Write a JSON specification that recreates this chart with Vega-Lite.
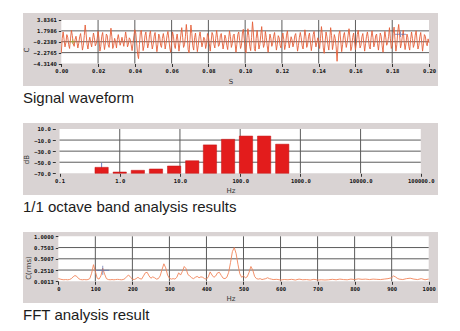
{
  "$schema": "https://vega.github.io/schema/vega-lite/v6.json",
  "background": "white",
  "padding": {"left": 22, "top": 13, "right": 0, "bottom": 0},
  "spacing": 17,
  "config": {
    "view": {"fill": "#d9d3d3", "stroke": null},
    "axis": {
      "domain": false, "grid": false, "zindex": 1, "tickCount": 12,
      "labelFont": "DejaVu Sans Mono", "labelFontWeight": "bold", "labelFontSize": 5.5, "labelColor": "#111111",
      "labelPadding": 2, "labelFlush": false, "labelOverlap": false, "labelBound": false,
      "tickColor": "#333333", "tickSize": 3, "tickWidth": 1,
      "titleFont": "DejaVu Sans", "titleFontSize": 7, "titleFontWeight": "normal", "titleColor": "#333333"
    },
    "axisY": {"titlePadding": 4},
    "axisX": {"titlePadding": 3},
    "title": {
      "orient": "bottom", "anchor": "start", "frame": "group", "offset": 5, "baseline": "top",
      "font": "Liberation Sans", "fontSize": 15, "fontWeight": "normal", "color": "#1c1c1c"
    }
  },
  "vconcat": [
    {
      "width": 415, "height": 73,
      "title": "Signal waveform",
      "layer": [
        {
          "data": {"values": [{}]},
          "mark": {"type": "rect", "color": "#ffffff"},
          "encoding": {
            "x": {"datum": 0, "type": "quantitative", "scale": {"domain": [-0.020832, 0.204895], "nice": false, "zero": false},
                  "axis": {"orient": "bottom", "offset": -22.5, "values": [0, 0.02, 0.04, 0.06, 0.08, 0.1, 0.12, 0.14, 0.16, 0.18, 0.2], "format": ".2f", "title": "S"}},
            "x2": {"datum": 0.2},
            "y": {"datum": -4.314, "type": "quantitative", "scale": {"domain": [-8.5295, 5.1476], "nice": false, "zero": false},
                  "axis": {"offset": -38.3, "values": [-4.314, -2.2765, -0.2389, 1.7986, 3.8361], "format": ".4f", "title": "C"}},
            "y2": {"datum": 3.8361}
          }
        },
        {
          "data": {"values": [{"t": 0.02}, {"t": 0.04}, {"t": 0.06}, {"t": 0.08}, {"t": 0.1}, {"t": 0.12}, {"t": 0.14}, {"t": 0.16}, {"t": 0.18}, {"v": 1.7986}, {"v": -0.2389}, {"v": -2.2765}]},
          "layer": [
            {
              "transform": [{"filter": "isValid(datum.t)"}],
              "mark": {"type": "rule", "color": "#5c5c5c", "strokeWidth": 1},
              "encoding": {
                "x": {"field": "t", "type": "quantitative"},
                "y": {"datum": -4.314, "type": "quantitative"}, "y2": {"datum": 3.8361}
              }
            },
            {
              "transform": [{"filter": "isValid(datum.v)"}],
              "mark": {"type": "rule", "color": "#5c5c5c", "strokeWidth": 1},
              "encoding": {
                "y": {"field": "v", "type": "quantitative"},
                "x": {"datum": 0, "type": "quantitative"}, "x2": {"datum": 0.2}
              }
            }
          ]
        },
        {
          "data": {"values": [
            {"t":0,"v":-2.3},{"t":0.0005,"v":0.4},{"t":0.001,"v":1.6},{"t":0.0015,"v":0.2},{"t":0.002,"v":-1.2},{"t":0.0025,"v":-0.4},{"t":0.003,"v":1.1},{"t":0.0035,"v":0.6},{"t":0.004,"v":-0.8},{"t":0.0045,"v":-1.5},{"t":0.005,"v":0.3},{"t":0.0055,"v":1.9},{"t":0.006,"v":0.9},{"t":0.0065,"v":-0.6},{"t":0.007,"v":-1.1},{"t":0.0075,"v":0.2},{"t":0.008,"v":0.8},{"t":0.0085,"v":-0.3},{"t":0.009,"v":-1.4},{"t":0.0095,"v":-0.5},
            {"t":0.01,"v":0.7},{"t":0.0105,"v":1.3},{"t":0.011,"v":-0.2},{"t":0.0115,"v":-1.8},{"t":0.012,"v":-0.9},{"t":0.0125,"v":0.9},{"t":0.013,"v":2.9},{"t":0.0135,"v":1.2},{"t":0.014,"v":-0.7},{"t":0.0145,"v":-1.6},{"t":0.015,"v":-0.2},{"t":0.0155,"v":0.6},{"t":0.016,"v":-0.4},{"t":0.0165,"v":-1.2},{"t":0.017,"v":0.1},{"t":0.0175,"v":1.4},{"t":0.018,"v":0.5},{"t":0.0185,"v":-1.0},{"t":0.019,"v":-0.6},{"t":0.0195,"v":0.3},
            {"t":0.02,"v":1.7},{"t":0.0205,"v":0.4},{"t":0.021,"v":-2.0},{"t":0.0215,"v":-1.1},{"t":0.022,"v":0.8},{"t":0.0225,"v":1.5},{"t":0.023,"v":-0.3},{"t":0.0235,"v":-1.7},{"t":0.024,"v":-0.4},{"t":0.0245,"v":1.2},{"t":0.025,"v":0.9},{"t":0.0255,"v":-0.8},{"t":0.026,"v":-1.3},{"t":0.0265,"v":0.5},{"t":0.027,"v":2.3},{"t":0.0275,"v":0.7},{"t":0.028,"v":-1.5},{"t":0.0285,"v":-0.9},{"t":0.029,"v":0.4},{"t":0.0295,"v":-0.2},
            {"t":0.03,"v":-1.4},{"t":0.0305,"v":0.2},{"t":0.031,"v":1.1},{"t":0.0315,"v":0.1},{"t":0.032,"v":-0.9},{"t":0.0325,"v":-0.3},{"t":0.033,"v":0.6},{"t":0.0335,"v":-0.2},{"t":0.034,"v":-1.1},{"t":0.0345,"v":0.3},{"t":0.035,"v":1.6},{"t":0.0355,"v":0.4},{"t":0.036,"v":-1.2},{"t":0.0365,"v":-0.7},{"t":0.037,"v":0.5},{"t":0.0375,"v":0.2},{"t":0.038,"v":-0.8},{"t":0.0385,"v":-1.9},{"t":0.039,"v":-0.6},{"t":0.0395,"v":0.9},
            {"t":0.04,"v":2.0},{"t":0.0405,"v":1.4},{"t":0.041,"v":-0.5},{"t":0.0415,"v":-2.6},{"t":0.042,"v":-3.4},{"t":0.0425,"v":-0.8},{"t":0.043,"v":1.5},{"t":0.0435,"v":1.9},{"t":0.044,"v":0.1},{"t":0.0445,"v":-1.9},{"t":0.045,"v":-1.0},{"t":0.0455,"v":0.9},{"t":0.046,"v":1.6},{"t":0.0465,"v":0.0},{"t":0.047,"v":-1.4},{"t":0.0475,"v":-0.6},{"t":0.048,"v":1.1},{"t":0.0485,"v":1.8},{"t":0.049,"v":-0.2},{"t":0.0495,"v":-1.6},
            {"t":0.05,"v":-0.7},{"t":0.0505,"v":0.8},{"t":0.051,"v":1.5},{"t":0.0515,"v":-0.4},{"t":0.052,"v":-2.1},{"t":0.0525,"v":-0.8},{"t":0.053,"v":1.2},{"t":0.0535,"v":0.7},{"t":0.054,"v":-0.9},{"t":0.0545,"v":-1.3},{"t":0.055,"v":0.4},{"t":0.0555,"v":1.3},{"t":0.056,"v":0.2},{"t":0.0565,"v":-1.6},{"t":0.057,"v":-0.5},{"t":0.0575,"v":0.9},{"t":0.058,"v":1.7},{"t":0.0585,"v":0.3},{"t":0.059,"v":-1.4},{"t":0.0595,"v":-2.2},
            {"t":0.06,"v":-0.3},{"t":0.0605,"v":1.6},{"t":0.061,"v":0.8},{"t":0.0615,"v":-0.9},{"t":0.062,"v":-1.5},{"t":0.0625,"v":0.1},{"t":0.063,"v":1.2},{"t":0.0635,"v":-0.1},{"t":0.064,"v":-2.0},{"t":0.0645,"v":-0.6},{"t":0.065,"v":1.0},{"t":0.0655,"v":2.4},{"t":0.066,"v":0.6},{"t":0.0665,"v":-1.3},{"t":0.067,"v":-0.8},{"t":0.0675,"v":0.7},{"t":0.068,"v":3.0},{"t":0.0685,"v":1.1},{"t":0.069,"v":-1.7},{"t":0.0695,"v":-2.3},
            {"t":0.07,"v":0.2},{"t":0.0705,"v":2.9},{"t":0.071,"v":1.3},{"t":0.0715,"v":-1.0},{"t":0.072,"v":-1.8},{"t":0.0725,"v":0.5},{"t":0.073,"v":1.4},{"t":0.0735,"v":-0.3},{"t":0.074,"v":-2.1},{"t":0.0745,"v":-0.9},{"t":0.075,"v":0.8},{"t":0.0755,"v":1.6},{"t":0.076,"v":0.1},{"t":0.0765,"v":-1.2},{"t":0.077,"v":-0.4},{"t":0.0775,"v":0.6},{"t":0.078,"v":0.3},{"t":0.0785,"v":-1.5},{"t":0.079,"v":-0.7},{"t":0.0795,"v":1.3},
            {"t":0.08,"v":0.8},{"t":0.0805,"v":-0.6},{"t":0.081,"v":-2.0},{"t":0.0815,"v":-0.2},{"t":0.082,"v":1.5},{"t":0.0825,"v":1.0},{"t":0.083,"v":-0.7},{"t":0.0835,"v":-1.4},{"t":0.084,"v":0.4},{"t":0.0845,"v":1.9},{"t":0.085,"v":0.5},{"t":0.0855,"v":-1.1},{"t":0.086,"v":-0.8},{"t":0.0865,"v":0.9},{"t":0.087,"v":1.3},{"t":0.0875,"v":-0.2},{"t":0.088,"v":-1.6},{"t":0.0885,"v":-0.5},{"t":0.089,"v":1.0},{"t":0.0895,"v":0.4},
            {"t":0.09,"v":-0.9},{"t":0.0905,"v":-1.7},{"t":0.091,"v":0.2},{"t":0.0915,"v":1.8},{"t":0.092,"v":0.7},{"t":0.0925,"v":-1.3},{"t":0.093,"v":-0.6},{"t":0.0935,"v":0.9},{"t":0.094,"v":1.2},{"t":0.0945,"v":-0.4},{"t":0.095,"v":-2.2},{"t":0.0955,"v":-0.7},{"t":0.096,"v":1.1},{"t":0.0965,"v":1.6},{"t":0.097,"v":0.0},{"t":0.0975,"v":-1.5},{"t":0.098,"v":-0.9},{"t":0.0985,"v":1.4},{"t":0.099,"v":2.1},{"t":0.0995,"v":0.3},
            {"t":0.1,"v":-1.8},{"t":0.1005,"v":-2.3},{"t":0.101,"v":0.5},{"t":0.1015,"v":2.2},{"t":0.102,"v":0.9},{"t":0.1025,"v":-1.1},{"t":0.103,"v":-1.9},{"t":0.1035,"v":0.6},{"t":0.104,"v":3.5},{"t":0.1045,"v":1.4},{"t":0.105,"v":-1.5},{"t":0.1055,"v":-2.0},{"t":0.106,"v":0.4},{"t":0.1065,"v":1.9},{"t":0.107,"v":0.3},{"t":0.1075,"v":-1.6},{"t":0.108,"v":-0.8},{"t":0.1085,"v":1.0},{"t":0.109,"v":2.6},{"t":0.1095,"v":0.2},
            {"t":0.11,"v":-1.3},{"t":0.1105,"v":-0.6},{"t":0.111,"v":1.7},{"t":0.1115,"v":0.6},{"t":0.112,"v":-1.0},{"t":0.1125,"v":-2.2},{"t":0.113,"v":-0.3},{"t":0.1135,"v":1.2},{"t":0.114,"v":0.4},{"t":0.1145,"v":-1.1},{"t":0.115,"v":-0.5},{"t":0.1155,"v":0.8},{"t":0.116,"v":1.5},{"t":0.1165,"v":-0.2},{"t":0.117,"v":-1.8},{"t":0.1175,"v":-0.7},{"t":0.118,"v":0.9},{"t":0.1185,"v":0.5},{"t":0.119,"v":-0.9},{"t":0.1195,"v":-1.4},
            {"t":0.12,"v":0.3},{"t":0.1205,"v":1.4},{"t":0.121,"v":0.2},{"t":0.1215,"v":-1.7},{"t":0.122,"v":-0.8},{"t":0.1225,"v":1.0},{"t":0.123,"v":1.8},{"t":0.1235,"v":-0.1},{"t":0.124,"v":-1.4},{"t":0.1245,"v":-0.3},{"t":0.125,"v":0.7},{"t":0.1255,"v":0.1},{"t":0.126,"v":-1.2},{"t":0.1265,"v":-0.5},{"t":0.127,"v":0.9},{"t":0.1275,"v":1.3},{"t":0.128,"v":-0.4},{"t":0.1285,"v":-2.0},{"t":0.129,"v":-0.9},{"t":0.1295,"v":0.6},
            {"t":0.13,"v":1.5},{"t":0.1305,"v":0.5},{"t":0.131,"v":-1.0},{"t":0.1315,"v":-1.6},{"t":0.132,"v":0.2},{"t":0.1325,"v":2.0},{"t":0.133,"v":0.8},{"t":0.1335,"v":-1.3},{"t":0.134,"v":-0.7},{"t":0.1345,"v":0.8},{"t":0.135,"v":1.4},{"t":0.1355,"v":-0.3},{"t":0.136,"v":-1.9},{"t":0.1365,"v":-0.6},{"t":0.137,"v":1.1},{"t":0.1375,"v":1.7},{"t":0.138,"v":0.1},{"t":0.1385,"v":-1.2},{"t":0.139,"v":-0.4},{"t":0.1395,"v":0.5},
            {"t":0.14,"v":-0.3},{"t":0.1405,"v":-1.5},{"t":0.141,"v":0.4},{"t":0.1415,"v":2.6},{"t":0.142,"v":1.0},{"t":0.1425,"v":-1.4},{"t":0.143,"v":-2.4},{"t":0.1435,"v":-0.2},{"t":0.144,"v":1.6},{"t":0.1445,"v":0.7},{"t":0.145,"v":-0.8},{"t":0.1455,"v":-1.8},{"t":0.146,"v":0.3},{"t":0.1465,"v":2.4},{"t":0.147,"v":0.9},{"t":0.1475,"v":-1.7},{"t":0.148,"v":-0.6},{"t":0.1485,"v":1.1},{"t":0.149,"v":0.4},{"t":0.1495,"v":-1.2},
            {"t":0.15,"v":-3.9},{"t":0.1505,"v":-1.0},{"t":0.151,"v":1.2},{"t":0.1515,"v":1.8},{"t":0.152,"v":-0.1},{"t":0.1525,"v":-2.1},{"t":0.153,"v":-0.8},{"t":0.1535,"v":0.9},{"t":0.154,"v":1.5},{"t":0.1545,"v":0.1},{"t":0.155,"v":-1.3},{"t":0.1555,"v":-0.4},{"t":0.156,"v":1.0},{"t":0.1565,"v":2.2},{"t":0.157,"v":0.5},{"t":0.1575,"v":-1.9},{"t":0.158,"v":-1.2},{"t":0.1585,"v":0.6},{"t":0.159,"v":1.4},{"t":0.1595,"v":-0.2},
            {"t":0.16,"v":-1.7},{"t":0.1605,"v":-0.5},{"t":0.161,"v":1.1},{"t":0.1615,"v":1.9},{"t":0.162,"v":0.2},{"t":0.1625,"v":-1.4},{"t":0.163,"v":-0.9},{"t":0.1635,"v":0.7},{"t":0.164,"v":1.3},{"t":0.1645,"v":-0.3},{"t":0.165,"v":-2.0},{"t":0.1655,"v":-0.6},{"t":0.166,"v":0.8},{"t":0.1665,"v":1.6},{"t":0.167,"v":0.4},{"t":0.1675,"v":-1.1},{"t":0.168,"v":-1.6},{"t":0.1685,"v":0.5},{"t":0.169,"v":1.8},{"t":0.1695,"v":0.6},
            {"t":0.17,"v":-1.2},{"t":0.1705,"v":-0.5},{"t":0.171,"v":0.9},{"t":0.1715,"v":1.2},{"t":0.172,"v":-0.6},{"t":0.1725,"v":-1.8},{"t":0.173,"v":-0.2},{"t":0.1735,"v":1.4},{"t":0.174,"v":0.8},{"t":0.1745,"v":-1.0},{"t":0.175,"v":-2.2},{"t":0.1755,"v":0.1},{"t":0.176,"v":1.7},{"t":0.1765,"v":0.5},{"t":0.177,"v":-0.9},{"t":0.1775,"v":-0.4},{"t":0.178,"v":0.7},{"t":0.1785,"v":2.4},{"t":0.179,"v":0.3},{"t":0.1795,"v":-1.5},
            {"t":0.18,"v":-1.0},{"t":0.1805,"v":1.3},{"t":0.181,"v":2.5},{"t":0.1815,"v":0.2},{"t":0.182,"v":-2.0},{"t":0.1825,"v":-0.8},{"t":0.183,"v":1.6},{"t":0.1835,"v":3.0},{"t":0.184,"v":1.1},{"t":0.1845,"v":-1.4},{"t":0.185,"v":-0.6},{"t":0.1855,"v":0.8},{"t":0.186,"v":1.9},{"t":0.1865,"v":-0.3},{"t":0.187,"v":-1.7},{"t":0.1875,"v":-0.5},{"t":0.188,"v":1.2},{"t":0.1885,"v":0.6},{"t":0.189,"v":-1.1},{"t":0.1895,"v":-1.8},
            {"t":0.19,"v":0.2},{"t":0.1905,"v":1.6},{"t":0.191,"v":0.4},{"t":0.1915,"v":-1.3},{"t":0.192,"v":-0.7},{"t":0.1925,"v":1.0},{"t":0.193,"v":1.8},{"t":0.1935,"v":0.0},{"t":0.194,"v":-1.6},{"t":0.1945,"v":-0.9},{"t":0.195,"v":0.7},{"t":0.1955,"v":1.5},{"t":0.196,"v":-0.2},{"t":0.1965,"v":-2.0},{"t":0.197,"v":-0.6},{"t":0.1975,"v":1.1},{"t":0.198,"v":0.8},{"t":0.1985,"v":-0.5},{"t":0.199,"v":-1.0},{"t":0.1995,"v":0.3},{"t":0.2,"v":-0.4}
          ]},
          "mark": {"type": "line", "color": "#e4603a", "strokeWidth": 0.9},
          "encoding": {
            "x": {"field": "t", "type": "quantitative"},
            "y": {"field": "v", "type": "quantitative"}
          }
        },
        {
          "data": {"values": [{"t": 0.1845, "v": 1.16, "c": "cursor"}, {"t": 0.0062, "v": -0.23, "c": "marker"}]},
          "mark": {"type": "point", "filled": false, "strokeWidth": 1},
          "encoding": {
            "x": {"field": "t", "type": "quantitative"},
            "y": {"field": "v", "type": "quantitative"},
            "shape": {"field": "c", "type": "nominal", "scale": {"domain": ["cursor", "marker"], "range": ["M-1,0H1M0,-0.5V0.5", "M-1,0H1M0,-1V1"]}, "legend": null},
            "color": {"field": "c", "type": "nominal", "scale": {"domain": ["cursor", "marker"], "range": ["#5a6aa8", "#9fb030"]}, "legend": null},
            "size": {"field": "c", "type": "nominal", "scale": {"domain": ["cursor", "marker"], "range": [121, 25]}, "legend": null}
          }
        }
      ]
    },
    {
      "width": 415, "height": 72,
      "title": "1/1 octave band analysis results",
      "layer": [
        {
          "data": {"values": [{}]},
          "mark": {"type": "rect", "color": "#ffffff"},
          "encoding": {
            "x": {"datum": 0.1, "type": "quantitative", "scale": {"type": "log", "domain": [0.029957, 159420], "nice": false},
                  "axis": {"orient": "bottom", "offset": -21.7, "values": [0.1, 1, 10, 100, 1000, 10000, 100000], "format": ".1f", "title": "Hz"}},
            "x2": {"datum": 100000},
            "y": {"datum": -70, "type": "quantitative", "scale": {"domain": [-109.187, 20.835], "nice": false, "zero": false},
                  "axis": {"offset": -32.3, "values": [-70, -50, -30, -10, 10], "format": ".1f", "title": "dB"}},
            "y2": {"datum": 10}
          }
        },
        {
          "data": {"values": [{"f": 1}, {"f": 10}, {"f": 100}, {"f": 1000}, {"f": 10000}, {"db": -10}, {"db": -30}, {"db": -50}]},
          "layer": [
            {
              "transform": [{"filter": "isValid(datum.f)"}],
              "mark": {"type": "rule", "color": "#5c5c5c", "strokeWidth": 1},
              "encoding": {
                "x": {"field": "f", "type": "quantitative"},
                "y": {"datum": -70, "type": "quantitative"}, "y2": {"datum": 10}
              }
            },
            {
              "transform": [{"filter": "isValid(datum.db)"}],
              "mark": {"type": "rule", "color": "#5c5c5c", "strokeWidth": 1},
              "encoding": {
                "y": {"field": "db", "type": "quantitative"},
                "x": {"datum": 0.1, "type": "quantitative"}, "x2": {"datum": 100000}
              }
            }
          ]
        },
        {
          "data": {"values": [{}]},
          "mark": {"type": "rule", "color": "#6f82c4", "strokeWidth": 1},
          "encoding": {
            "x": {"datum": 0.5, "type": "quantitative"},
            "y": {"datum": -70, "type": "quantitative"}, "y2": {"datum": -51}
          }
        },
        {
          "data": {"values": [
            {"f": 0.5, "db": -59.2}, {"f": 1, "db": -67.7}, {"f": 2, "db": -64.6}, {"f": 4, "db": -62.2},
            {"f": 8, "db": -56.8}, {"f": 16, "db": -47.3}, {"f": 31.5, "db": -18.7}, {"f": 63, "db": -8.6},
            {"f": 125, "db": -2.7}, {"f": 250, "db": -2.7}, {"f": 500, "db": -17.4}
          ]},
          "mark": {"type": "bar", "width": 13.3, "color": "#e31c1c", "stroke": "#c01414", "strokeWidth": 0.5},
          "encoding": {
            "x": {"field": "f", "type": "quantitative"},
            "y": {"field": "db", "type": "quantitative"},
            "y2": {"datum": -70}
          }
        }
      ]
    },
    {
      "width": 415, "height": 71,
      "title": "FFT analysis result",
      "layer": [
        {
          "data": {"values": [{}]},
          "mark": {"type": "rect", "color": "#ffffff"},
          "encoding": {
            "x": {"datum": 0, "type": "quantitative", "scale": {"domain": [-95.3, 1025.11], "nice": false, "zero": false},
                  "axis": {"orient": "bottom", "offset": -21.7, "values": [0, 100, 200, 300, 400, 500, 600, 700, 800, 900, 1000], "format": "d", "title": "Hz"}},
            "x2": {"datum": 1000},
            "y": {"datum": 0.0013, "type": "quantitative", "scale": {"domain": [-0.4803, 1.09543], "nice": false, "zero": false},
                  "axis": {"offset": -35.3, "values": [0.0013, 0.251, 0.5007, 0.7503, 1.0], "format": ".4f", "title": "C(rms)", "titlePadding": 2}},
            "y2": {"datum": 1.0}
          }
        },
        {
          "data": {"values": [{"f": 100}, {"f": 200}, {"f": 300}, {"f": 400}, {"f": 500}, {"f": 600}, {"f": 700}, {"f": 800}, {"f": 900}, {"a": 0.251}, {"a": 0.5007}, {"a": 0.7503}]},
          "layer": [
            {
              "transform": [{"filter": "isValid(datum.f)"}],
              "mark": {"type": "rule", "color": "#5c5c5c", "strokeWidth": 1},
              "encoding": {
                "x": {"field": "f", "type": "quantitative"},
                "y": {"datum": 0.0013, "type": "quantitative"}, "y2": {"datum": 1.0}
              }
            },
            {
              "transform": [{"filter": "isValid(datum.a)"}],
              "mark": {"type": "rule", "color": "#5c5c5c", "strokeWidth": 1},
              "encoding": {
                "y": {"field": "a", "type": "quantitative"},
                "x": {"datum": 0, "type": "quantitative"}, "x2": {"datum": 1000}
              }
            }
          ]
        },
        {
          "data": {"values": [
            {"f":0,"a":0.06},{"f":5,"a":0.05},{"f":10,"a":0.04},{"f":15,"a":0.035},{"f":20,"a":0.04},{"f":25,"a":0.035},{"f":30,"a":0.04},{"f":35,"a":0.06},{"f":40,"a":0.1},{"f":45,"a":0.13},
            {"f":50,"a":0.11},{"f":55,"a":0.06},{"f":60,"a":0.04},{"f":65,"a":0.035},{"f":70,"a":0.04},{"f":75,"a":0.035},{"f":80,"a":0.04},{"f":85,"a":0.06},{"f":90,"a":0.18},{"f":95,"a":0.37},
            {"f":100,"a":0.22},{"f":105,"a":0.07},{"f":110,"a":0.05},{"f":115,"a":0.12},{"f":120,"a":0.29},{"f":125,"a":0.16},{"f":130,"a":0.06},{"f":135,"a":0.04},{"f":140,"a":0.035},{"f":145,"a":0.04},
            {"f":150,"a":0.035},{"f":155,"a":0.04},{"f":160,"a":0.045},{"f":165,"a":0.04},{"f":170,"a":0.035},{"f":175,"a":0.04},{"f":180,"a":0.06},{"f":185,"a":0.11},{"f":190,"a":0.14},{"f":195,"a":0.09},
            {"f":200,"a":0.05},{"f":205,"a":0.04},{"f":210,"a":0.06},{"f":215,"a":0.09},{"f":220,"a":0.06},{"f":225,"a":0.05},{"f":230,"a":0.12},{"f":235,"a":0.19},{"f":240,"a":0.2},{"f":245,"a":0.12},
            {"f":250,"a":0.07},{"f":255,"a":0.1},{"f":260,"a":0.08},{"f":265,"a":0.05},{"f":270,"a":0.06},{"f":275,"a":0.12},{"f":280,"a":0.26},{"f":285,"a":0.39},{"f":290,"a":0.3},{"f":295,"a":0.14},
            {"f":300,"a":0.07},{"f":305,"a":0.05},{"f":310,"a":0.06},{"f":315,"a":0.05},{"f":320,"a":0.09},{"f":325,"a":0.19},{"f":330,"a":0.14},{"f":335,"a":0.22},{"f":340,"a":0.33},{"f":345,"a":0.28},
            {"f":350,"a":0.15},{"f":355,"a":0.12},{"f":360,"a":0.08},{"f":365,"a":0.06},{"f":370,"a":0.09},{"f":375,"a":0.11},{"f":380,"a":0.08},{"f":385,"a":0.1},{"f":390,"a":0.09},{"f":395,"a":0.06},
            {"f":400,"a":0.05},{"f":405,"a":0.1},{"f":410,"a":0.21},{"f":415,"a":0.14},{"f":420,"a":0.09},{"f":425,"a":0.12},{"f":430,"a":0.19},{"f":435,"a":0.2},{"f":440,"a":0.13},{"f":445,"a":0.07},
            {"f":450,"a":0.06},{"f":455,"a":0.09},{"f":460,"a":0.2},{"f":465,"a":0.42},{"f":470,"a":0.66},{"f":475,"a":0.75},{"f":480,"a":0.62},{"f":485,"a":0.38},{"f":490,"a":0.17},{"f":495,"a":0.09},
            {"f":500,"a":0.12},{"f":505,"a":0.08},{"f":510,"a":0.1},{"f":515,"a":0.2},{"f":520,"a":0.33},{"f":525,"a":0.25},{"f":530,"a":0.11},{"f":535,"a":0.06},{"f":540,"a":0.05},{"f":545,"a":0.06},
            {"f":550,"a":0.04},{"f":555,"a":0.05},{"f":560,"a":0.06},{"f":565,"a":0.08},{"f":570,"a":0.06},{"f":575,"a":0.05},{"f":580,"a":0.04},{"f":590,"a":0.045},{"f":600,"a":0.03},{"f":610,"a":0.04},
            {"f":620,"a":0.035},{"f":630,"a":0.045},{"f":640,"a":0.03},{"f":650,"a":0.05},{"f":660,"a":0.035},{"f":670,"a":0.04},{"f":680,"a":0.03},{"f":690,"a":0.045},{"f":700,"a":0.03},{"f":710,"a":0.035},
            {"f":720,"a":0.03},{"f":730,"a":0.035},{"f":740,"a":0.045},{"f":750,"a":0.035},{"f":760,"a":0.05},{"f":770,"a":0.04},{"f":780,"a":0.035},{"f":790,"a":0.05},{"f":800,"a":0.04},{"f":810,"a":0.055},
            {"f":820,"a":0.045},{"f":830,"a":0.05},{"f":840,"a":0.04},{"f":850,"a":0.05},{"f":860,"a":0.045},{"f":870,"a":0.04},{"f":880,"a":0.05},{"f":890,"a":0.06},{"f":900,"a":0.08},{"f":905,"a":0.12},
            {"f":910,"a":0.1},{"f":915,"a":0.07},{"f":920,"a":0.05},{"f":930,"a":0.04},{"f":940,"a":0.06},{"f":950,"a":0.07},{"f":960,"a":0.05},{"f":970,"a":0.04},{"f":980,"a":0.06},{"f":990,"a":0.035},
            {"f":1000,"a":0.05}
          ]},
          "mark": {"type": "line", "color": "#f0855a", "strokeWidth": 0.9},
          "encoding": {
            "x": {"field": "f", "type": "quantitative"},
            "y": {"field": "a", "type": "quantitative"}
          }
        },
        {
          "data": {"values": [{"f": 120, "a": 0.245}]},
          "mark": {"type": "point", "shape": "M-1,0H1M0,-0.7V0.7", "size": 169, "filled": false, "color": "#5a6aa8", "strokeWidth": 1},
          "encoding": {"x": {"field": "f", "type": "quantitative"}, "y": {"field": "a", "type": "quantitative"}}
        }
      ]
    }
  ]
}
